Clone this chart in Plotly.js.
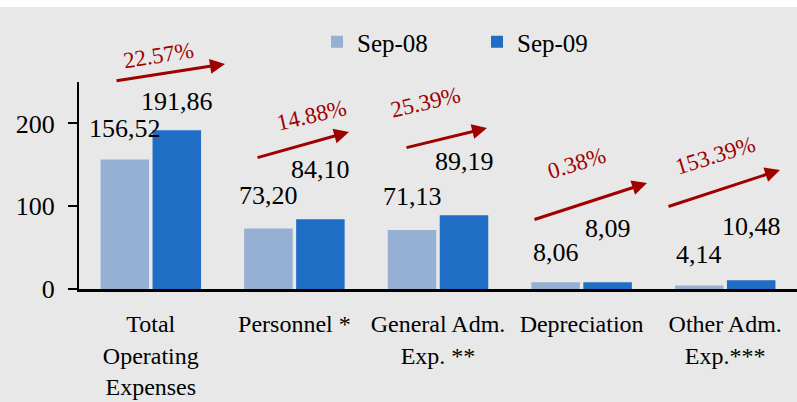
<!DOCTYPE html>
<html>
<head>
<meta charset="utf-8">
<script src="https://cdn.plot.ly/plotly-3.0.1.min.js"></script>
<style>html,body{margin:0;padding:0;background:#ffffff;}#chart{width:797px;height:402px;}</style>
</head>
<body>
<div id="chart"></div>
<script>
// ---- data ----
const categories = ['Total<br>Operating<br>Expenses', 'Personnel *', 'General Adm.<br>Exp. **', 'Depreciation', 'Other Adm.<br>Exp.***'];
const seriesNames = ['Sep-08', 'Sep-09'];
const sep08 = [156.52, 73.20, 71.13, 8.06, 4.14];
const sep09 = [191.86, 84.10, 89.19, 8.09, 10.48];
const growthLabels = ['22.57%', '14.88%', '25.39%', '0.38%', '153.39%'];
const yTicks = [0, 100, 200];

// ---- styling / layout helpers ----
const FONT = '"Liberation Serif", "Times New Roman", "DejaVu Serif", serif';
const colors = ['#95b0d3', '#1f6dc4'];
const red = '#a00000';
const plotL = 79, plotW = 718, plotT = 82, plotH = 207;
const xp = px => (px - plotL) / plotW;
const yp = py => (plotT + plotH - py) / plotH;

// label lifts (pixels above bar tops)
const liftA = [31, 33, 34, 30, 31];
const liftB = [29, 50, 54, 54, 54];
// arrow geometry in page pixels: [tailX, tailY, tipX, tipY]
const arrowGeom = [[115, 81, 225, 64], [256, 158, 349, 132], [405, 148, 487, 128], [533, 220, 647, 183], [667, 207, 780, 170]];
// growth text centers and angles
const growthPos = [[158, 55, -9], [311, 115, -13], [425, 102, -13], [576, 163, -17], [715, 155, -17]];

const fmt = v => v.toFixed(2).replace('.', ',');

const traces = [sep08, sep09].map((vals, i) => ({
  type: 'bar',
  name: seriesNames[i],
  x: categories,
  y: vals,
  marker: {color: colors[i]},
  hoverinfo: 'none'
}));

const annotations = [];
sep08.forEach((v, i) => annotations.push({
  xref: 'x', yref: 'y', x: categories[i], y: v, xshift: -26, yshift: liftA[i],
  text: fmt(v), showarrow: false, xanchor: 'center', yanchor: 'middle',
  font: {family: FONT, size: 26, color: '#000'}
}));
sep09.forEach((v, i) => annotations.push({
  xref: 'x', yref: 'y', x: categories[i], y: v, xshift: 26, yshift: liftB[i],
  text: fmt(v), showarrow: false, xanchor: 'center', yanchor: 'middle',
  font: {family: FONT, size: 26, color: '#000'}
}));
arrowGeom.forEach(g => annotations.push({
  xref: 'paper', yref: 'paper', x: xp(g[2]), y: yp(g[3]),
  ax: g[0] - g[2], ay: g[1] - g[3], text: '', showarrow: true,
  arrowhead: 2, arrowsize: 1, arrowwidth: 3, arrowcolor: red, standoff: 0
}));
growthLabels.forEach((t, i) => annotations.push({
  xref: 'paper', yref: 'paper', x: xp(growthPos[i][0]), y: yp(growthPos[i][1]),
  text: t, showarrow: false, textangle: growthPos[i][2], xanchor: 'center', yanchor: 'middle',
  font: {family: FONT, size: 23, color: red}
}));

const layout = {
  width: 797, height: 402,
  margin: {l: plotL, r: 797 - plotL - plotW, t: plotT, b: 402 - plotT - plotH, pad: 0},
  paper_bgcolor: '#e8e8e8',
  plot_bgcolor: '#e8e8e8',
  barmode: 'group',
  bargap: 0.276,
  bargroupgap: 0.067,
  font: {family: FONT, color: '#000'},
  showlegend: true,
  legend: {
    orientation: 'h', x: xp(317), y: yp(42), xanchor: 'left', yanchor: 'middle',
    font: {family: FONT, size: 25, color: '#000'}, bgcolor: 'rgba(0,0,0,0)',
    entrywidth: 115, entrywidthmode: 'pixels'
  },
  xaxis: {
    type: 'category', showline: true, linecolor: '#000', linewidth: 2.5,
    ticks: '', showgrid: false, zeroline: false,
    tickfont: {family: FONT, size: 24, color: '#000'},
    ticklabelstandoff: 12
  },
  yaxis: {
    range: [0, 250], showline: true, linecolor: '#000', linewidth: 2,
    ticks: 'outside', ticklen: 9, tickwidth: 2, tickcolor: '#000',
    tickvals: yTicks, ticktext: yTicks.map(String),
    showgrid: false, zeroline: false,
    tickfont: {family: FONT, size: 26, color: '#000'},
    ticklabelstandoff: 8
  },
  shapes: [{
    type: 'rect', xref: 'paper', yref: 'paper', layer: 'below',
    x0: -0.2, x1: 1.1, y0: yp(7), y1: yp(-5),
    fillcolor: '#ffffff', line: {width: 0}
  }],
  annotations: annotations
};

Plotly.newPlot('chart', traces, layout, {staticPlot: true, displayModeBar: false});
</script>
</body>
</html>
